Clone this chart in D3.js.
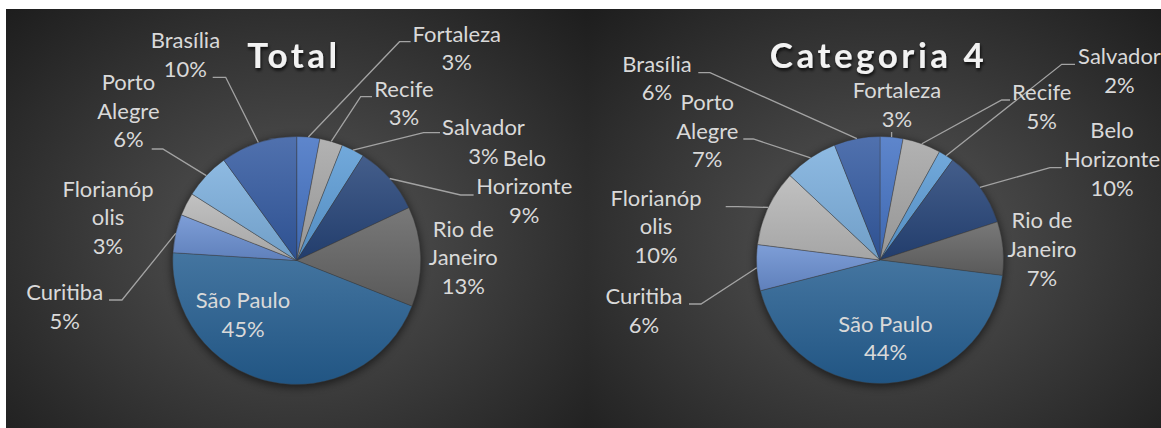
<!DOCTYPE html>
<html>
<head>
<meta charset="utf-8">
<script src="https://cdn.jsdelivr.net/npm/d3@7"></script>
<style>
  html, body { margin: 0; padding: 0; background: #fff; }
  svg { display: block; }
  text { font-family: Lato, "Open Sans", sans-serif; }
</style>
</head>
<body>
<svg id="chart" width="1161" height="428"></svg>
<script>
// ---- data ----
const cities = ['Fortaleza', 'Recife', 'Salvador', 'Belo Horizonte', 'Rio de Janeiro',
                'São Paulo', 'Curitiba', 'Florianópolis', 'Porto Alegre', 'Brasília'];
// how Excel wrapped each category name
const cityLines = [['Fortaleza'], ['Recife'], ['Salvador'], ['Belo', 'Horizonte'], ['Rio de', 'Janeiro'],
                   ['São Paulo'], ['Curitiba'], ['Florianóp', 'olis'], ['Porto', 'Alegre'], ['Brasília']];
const totalValues = [3, 3, 3, 9, 13, 45, 5, 3, 6, 10];
const cat4Values  = [3, 5, 2, 10, 7, 44, 6, 10, 7, 6];
const sliceColors = ['#4472C4', '#A5A5A5', '#5B9BD5', '#264478', '#636363',
                     '#255E91', '#698ED0', '#B7B7B7', '#7CAFDD', '#335AA1'];

// ---- layout: label anchors [x, first baseline] and leader elbows [xStart, xEnd, y] ----
const totalLayout = {
  title: 'Total', panel: [6, 9, 581, 460], center: [296.7, 260.5], r: 124, titlePos: [294, 68.3],
  labels: [[456.8, 41.7], [404, 96.7], [483.5, 135], [524.3, 165.7], [463.3, 236.7],
           [243, 308.3], [64.7, 300], [108, 196.7], [128.4, 90], [185.4, 48.3]],
  leaders: [[410.6, 399.5, 41.7], [372, 360.7, 96.7], [440, 423.6, 132.7], [473.6, 460.6, 195], null,
            null, [109, 122, 300], null, [151.7, 162.8, 149], [212.7, 225.7, 77.3]]
};
const cat4Layout = {
  title: 'Categoria 4', panel: [587, 9, 586, 460], center: [880, 260], r: 123.5, titlePos: [878.6, 68.3],
  labels: [[897, 98.3], [1041.7, 100], [1119.5, 64.3], [1112, 138.3], [1042, 228.3],
           [885.5, 331.7], [644, 304], [656, 205.7], [707.3, 110], [657, 71.7]],
  leaders: [[891.6, 891.6, 132], [1010, 1001.7, 100], [1075, 1061.7, 64.3], [1061.7, 1050, 167.7], null,
            null, [689, 701, 304], [725.7, 738, 206.7], [743.3, 753.3, 139], [698.3, 710, 72.7]]
};
const lineH = 28.7;

const svg = d3.select('#chart');
const defs = svg.append('defs');

// background: radial, lighter in the middle
const bg = defs.append('radialGradient').attr('id', 'bg-grad')
  .attr('cx', '50%').attr('cy', '50%').attr('r', '72%');
bg.append('stop').attr('offset', '0%').attr('stop-color', '#575757');
bg.append('stop').attr('offset', '100%').attr('stop-color', '#1c1c1c');

// slice gradients, light on top
sliceColors.forEach((c, i) => {
  const g = defs.append('linearGradient').attr('id', 'slice-' + i)
    .attr('x1', 0).attr('y1', 0).attr('x2', 0).attr('y2', 1);
  g.append('stop').attr('offset', '0%').attr('stop-color', d3.interpolateRgb(c, '#fff')(0.14));
  g.append('stop').attr('offset', '100%').attr('stop-color', d3.interpolateRgb(c, '#000')(0.1));
});

const shadow = defs.append('filter').attr('id', 'pie-shadow')
  .attr('x', '-20%').attr('y', '-20%').attr('width', '140%').attr('height', '140%');
shadow.append('feGaussianBlur').attr('stdDeviation', 4);

const titleShadow = defs.append('filter').attr('id', 'title-shadow')
  .attr('x', '-10%').attr('y', '-20%').attr('width', '120%').attr('height', '150%');
titleShadow.append('feDropShadow').attr('dx', 1).attr('dy', 2.5).attr('stdDeviation', 1.6)
  .attr('flood-color', '#000').attr('flood-opacity', 0.75);

const fmtPct = d3.format('.0%');

function drawPie(values, L) {
  const g = svg.append('g');
  const [px, py, pw, ph] = L.panel;
  g.append('rect').attr('x', px).attr('y', py).attr('width', pw).attr('height', ph)
    .attr('fill', 'url(#bg-grad)');

  const [cx, cy] = L.center;
  const sum = d3.sum(values);
  const arcs = d3.pie().sort(null).value(d => d)(values);
  const arc = d3.arc().innerRadius(0).outerRadius(L.r);

  const gp = g.append('g').attr('transform', `translate(${cx},${cy})`);
  gp.append('circle').attr('r', L.r + 1).attr('cy', 2)
    .attr('fill', '#000').attr('opacity', 0.55).attr('filter', 'url(#pie-shadow)');
  gp.selectAll('path.slice')
    .data(arcs)
    .join('path')
      .attr('class', 'slice')
      .attr('d', arc)
      .attr('fill', (d, i) => `url(#slice-${i})`)
      .attr('stroke', '#3a3a3a')
      .attr('stroke-opacity', 0.55)
      .attr('stroke-width', 0.75);

  // leader lines: horizontal stub next to the label, then straight to the slice edge
  const edge = d => {
    const a = (d.startAngle + d.endAngle) / 2;
    return [cx + L.r * Math.sin(a), cy - L.r * Math.cos(a)];
  };
  g.selectAll('polyline.leader')
    .data(arcs.filter((d, i) => L.leaders[i]))
    .join('polyline')
      .attr('class', 'leader')
      .attr('points', d => {
        const [x0, x1, y] = L.leaders[d.index];
        const [ex, ey] = edge(d);
        return `${x0},${y} ${x1},${y} ${ex},${ey}`;
      })
      .attr('fill', 'none')
      .attr('stroke', '#a3a3a3')
      .attr('stroke-width', 1.3);

  // data labels
  const lab = g.selectAll('text.lbl')
    .data(arcs)
    .join('text')
      .attr('class', 'lbl')
      .attr('text-anchor', 'middle')
      .attr('fill', '#d9d9d9')
      .attr('font-size', 22);
  lab.each(function(d, i) {
    const [x, y] = L.labels[i];
    const lines = cityLines[i].concat(fmtPct(d.value / sum));
    d3.select(this).selectAll('tspan')
      .data(lines)
      .join('tspan')
        .attr('x', x)
        .attr('y', (t, k) => y + k * lineH)
        .text(t => t);
  });

  g.append('text')
    .attr('x', L.titlePos[0]).attr('y', L.titlePos[1])
    .attr('text-anchor', 'middle')
    .attr('font-size', 35)
    .attr('font-weight', 700)
    .attr('letter-spacing', 3.5)
    .attr('fill', '#f2f2f2')
    .attr('filter', 'url(#title-shadow)')
    .text(L.title);
}

drawPie(totalValues, totalLayout);
drawPie(cat4Values, cat4Layout);
</script>
</body>
</html>
